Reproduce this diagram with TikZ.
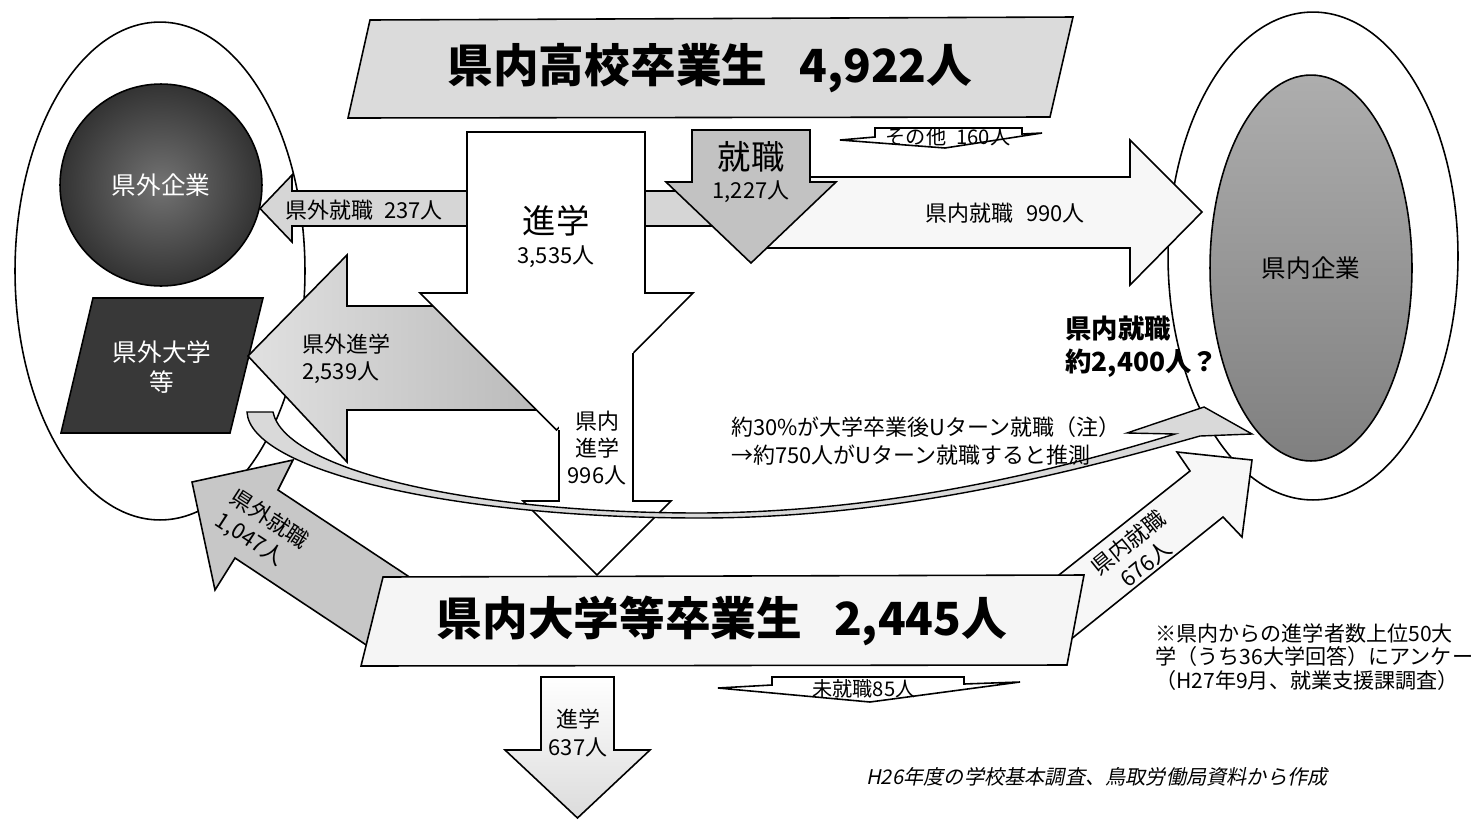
\documentclass[tikz,border=0pt]{standalone}
\usepackage{fontspec}
\setmainfont{Noto Sans CJK JP}
\newfontfamily\jpit[FakeSlant=0.2]{Noto Sans CJK JP}
\usetikzlibrary{shapes.geometric}
\definecolor{bannerc}{gray}{0.86}
\definecolor{boxc}{gray}{0.96}
\definecolor{darkp}{gray}{0.22}
\definecolor{shushokuc}{gray}{0.76}
\definecolor{lightc}{gray}{0.84}
\definecolor{wc}{gray}{0.97}
\definecolor{uturnc}{gray}{0.85}
\begin{document}
\begin{tikzpicture}[x=0.02cm,y=-0.02cm]
\tikzset{
  ol/.style={draw=black, line width=0.9pt, line join=miter},
  lbl/.style={inner sep=0pt, align=center, font=\fontsize{12.5}{15.5}\selectfont},
  big/.style={inner sep=0pt, font=\fontsize{26}{30}\selectfont\bfseries},
  mid/.style={inner sep=0pt, align=center, font=\fontsize{19}{22}\selectfont},
  wlbl/.style={inner sep=0pt, align=center, text=white, font=\fontsize{14}{17}\selectfont},
  note/.style={inner sep=0pt, align=left, font=\fontsize{12}{13.6}\selectfont},
}
\useasboundingbox (0,0) rectangle (1471,819);
\fill[white] (0,0) rectangle (1471,819);

% outer ellipses
\node[ellipse, ol, fill=white, minimum width=5.8cm, minimum height=9.96cm, inner sep=0] (outL) at (160,271) {};
\node[ellipse, ol, fill=white, minimum width=5.8cm, minimum height=9.76cm, inner sep=0] (outR) at (1313,256) {};
% kennai kigyo
\node[ellipse, ol, top color=black!32, bottom color=black!50, minimum width=4.04cm, minimum height=7.72cm, inner sep=0,
      font=\fontsize{14}{17}\selectfont] (kennaiK) at (1311,268) {県内企業};
% kengai kigyo
\node[circle, ol, inner color=black!55, outer color=black!80, minimum size=4.04cm, inner sep=0,
      text=white, font=\fontsize{14}{17}\selectfont] (kengaiK) at (161,185) {県外企業};
% kengai daigaku
\draw[ol, fill=darkp] (93,298) -- (263,298) -- (230,433) -- (61,433) -- cycle;
\node[wlbl, font=\fontsize{14}{17.5}\selectfont] (kengaiU) at (162,367) {県外大学\\等};

% top banner
\draw[ol, fill=bannerc] (370,20) -- (1073,17) -- (1050,117) -- (348,118) -- cycle;
\node[big] (koukou) at (710,68) {県内高校卒業生\hspace{0.7em}4,922人};

% 990 arrow
\draw[ol, fill=wc] (750,177) -- (1130,177) -- (1130,140) -- (1202,212) -- (1130,285) -- (1130,248) -- (750,248) -- cycle;
\node[lbl] (k990) at (1005,213) {県内就職\hspace{0.6em}990人};

% 237 arrow
\draw[ol, fill=lightc] (740,191) -- (292,191) -- (292,175) -- (260,208.5) -- (292,242) -- (292,226) -- (740,226) -- cycle;
\node[lbl] (k237) at (364,210) {県外就職\hspace{0.5em}237人};

% kengai shingaku arrow
\draw[ol, left color=black!12, right color=black!28] (560,306) -- (347,306) -- (347,255) -- (248,356) -- (347,462) -- (347,410) -- (560,410) -- cycle;
\node[lbl, align=left, anchor=west] (k2539) at (302,359) {県外進学\\2,539人};

% shingaku arrow
\draw[ol, fill=white] (467,132) -- (645,132) -- (645,293) -- (693,293) -- (556.5,430) -- (420,293) -- (467,293) -- cycle;
\node[mid] (shin) at (556,221) {進学};
\node[lbl] (shin3535) at (556,257) {3,535人};

% kennai shingaku arrow
\fill[white] (559,350) -- (633,350) -- (633,501) -- (671,501) -- (597,575) -- (523,501) -- (559,501) -- cycle;
\draw[ol] (559,430) -- (559,501) -- (523,501) -- (597,575) -- (671,501) -- (633,501) -- (633,353);
\node[lbl, font=\fontsize{12.5}{15.6}\selectfont] (k996) at (597,448) {県内\\進学\\996人};

% shushoku arrow
\draw[ol, fill=shushokuc] (692,130) -- (810,130) -- (810,182) -- (836,182) -- (751,263) -- (666,182) -- (692,182) -- cycle;
\node[mid] (shu) at (751,157) {就職};
\node[lbl] (shu1227) at (751,192) {1,227人};

% sonota arrow
\draw[ol, fill=white] (840,140) -- (875,137) -- (875,128) -- (1022,128) -- (1022,134) -- (1042,133) -- (945,148) -- cycle;
\node[lbl, font=\fontsize{11.5}{14}\selectfont] (sonota) at (948,137) {その他\hspace{0.5em}160人};

% U-turn curved arrow
\draw[ol, line width=0.8pt, fill=uturnc] (247,412) .. controls (250,470) and (450,518) .. (700,518)
   .. controls (900,518) and (1080,470) .. (1200,436) -- (1252,434) -- (1204,407) -- (1127,433) -- (1175,434)
   .. controls (1070,466) and (900,512) .. (700,513)
   .. controls (470,513) and (285,470) .. (273,412) -- cycle;
\node[lbl, align=left, anchor=west] (uturn) at (731,441) {約30\%が大学卒業後Uターン就職（注）\\→約750人がUターン就職すると推測};

% 1,047 arrow
\draw[ol, fill=black!22] (420,584) -- (278,490) -- (293,460) -- (192,482) -- (215,590) -- (235,558) -- (395,664) -- cycle;
\node[lbl, align=left, rotate=-33] (k1047) at (262,531) {県外就職\\1,047人};

% 676 arrow
\draw[ol, fill=wc] (1040,590) -- (1190,471) -- (1177,452) -- (1252,460) -- (1242,537) -- (1223,517) -- (1050,656) -- cycle;
\node[lbl, rotate=39] (k676) at (1137,553) {県内就職\\676人};

% bottom box
\draw[ol, fill=boxc] (383,577) -- (1084,575) -- (1067,665) -- (361,666) -- cycle;
\node[big] (daigaku) at (722,621) {県内大学等卒業生\hspace{0.7em}2,445人};

% mishushoku arrow
\draw[ol, fill=white] (718,688) -- (772,685) -- (772,677) -- (964,677) -- (964,684) -- (1020,682) -- (870,702) -- cycle;
\node[lbl, font=\fontsize{11.5}{14}\selectfont] (mishu) at (864,689) {未就職85人};

% shingaku 637 arrow
\draw[ol, top color=white, bottom color=black!14] (541,677) -- (614,677) -- (614,750) -- (650,750) -- (577.5,818) -- (505,750) -- (541,750) -- cycle;
\node[lbl] (s637) at (578,733) {進学\\637人};

% kennai shushoku 2400
\node[inner sep=0pt, align=left, anchor=west, font=\fontsize{15}{19}\selectfont\bfseries] (k2400) at (1065,347) {県内就職\\約2,400人？};

% notes
\node[note, anchor=west] (notes) at (1155,657) {※県内からの進学者数上位50大\\学（うち36大学回答）にアンケート\\（H27年9月、就業支援課調査）};
\node[inner sep=0pt, font=\fontsize{11.5}{14}\selectfont\jpit] (src) at (1097,777) {H26年度の学校基本調査、鳥取労働局資料から作成};
\end{tikzpicture}
\end{document}
